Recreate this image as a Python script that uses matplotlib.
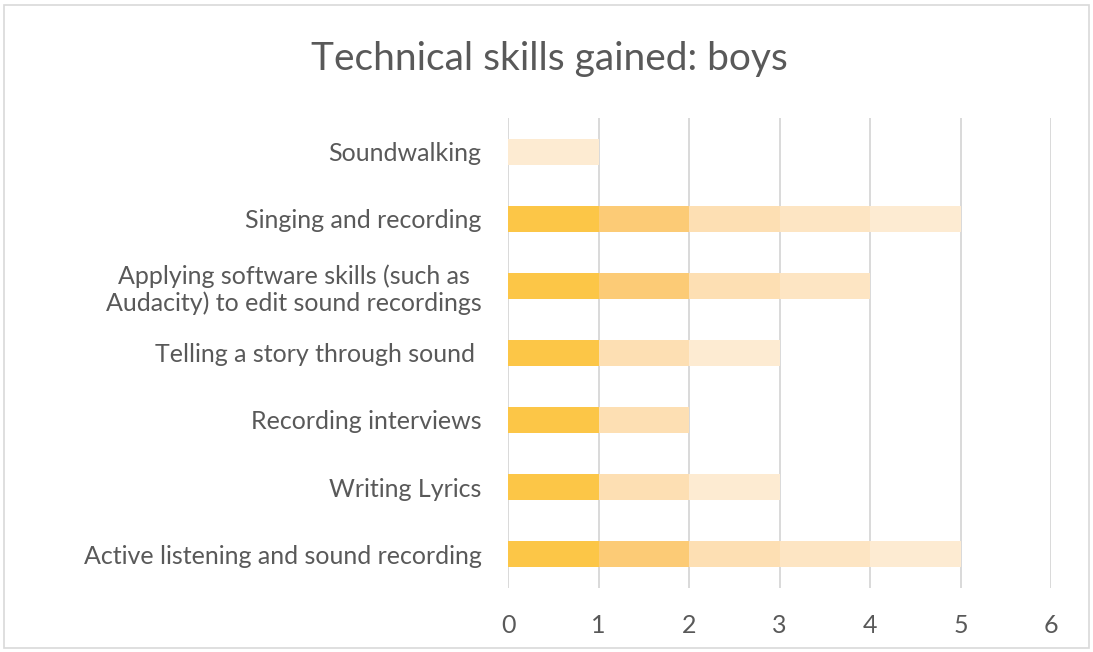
import matplotlib
matplotlib.use('Agg')
import matplotlib.pyplot as plt
from matplotlib.patches import Rectangle

#######################################################################
# data: one stacked segment per series, each worth 0 or 1
categories = [
    "Active listening and sound recording",
    "Writing Lyrics",
    "Recording interviews",
    "Telling a story through sound ",
    "Applying software skills (such as\nAudacity) to edit sound recordings",
    "Singing and recording",
    "Soundwalking",
]
series1 = [1, 1, 1, 1, 1, 1, 0]
series2 = [1, 0, 0, 0, 1, 1, 0]
series3 = [1, 1, 1, 1, 1, 1, 0]
series4 = [1, 0, 0, 0, 1, 1, 0]
series5 = [1, 1, 0, 1, 0, 1, 1]
xticks = [0, 1, 2, 3, 4, 5, 6]

colors = ["#FCC647", "#FCCB76", "#FDDFB3", "#FDE5C3", "#FDEBD2"]
text_color = "#595959"

#######################################################################
def main():

    plt.rcParams['font.family'] = ['Lato', 'DejaVu Sans']

    fig = plt.figure(figsize=(10.93, 6.52), dpi=100)
    ax = fig.add_axes([0.4648, 0.0989, 0.4968, 0.7194])

    y = list(range(len(categories)))
    left = [0] * len(categories)
    for vals, col in zip([series1, series2, series3, series4, series5], colors):
        ax.barh(y, vals, left=left, height=0.4, color=col, zorder=2)
        left = [a + b for a, b in zip(left, vals)]

    ax.set_xlim(0, 6)
    ax.set_ylim(-0.5, len(categories) - 0.5)
    ax.set_xticks(xticks)
    ax.set_yticks(y)
    ax.set_yticklabels(categories, multialignment="center")
    ax.tick_params(axis="both", length=0, labelsize=18, labelcolor=text_color)
    ax.tick_params(axis="x", pad=19)
    ax.tick_params(axis="y", pad=19)
    ax.grid(axis="x", color="#D9D9D9", linewidth=1.4, zorder=0)
    for s in ax.spines.values():
        s.set_visible(False)

    fig.text(0.503, 0.91, "Technical skills gained: boys", ha="center",
             va="center", fontsize=28, color=text_color)

    fig.patches.append(Rectangle((0.004, 0.006), 0.992, 0.986, transform=fig.transFigure,
                                 fill=False, edgecolor="#D9D9D9", linewidth=1.2))

    fig.savefig("out.png", dpi=100)

#######################################################################
if __name__ == '__main__':

    main()
